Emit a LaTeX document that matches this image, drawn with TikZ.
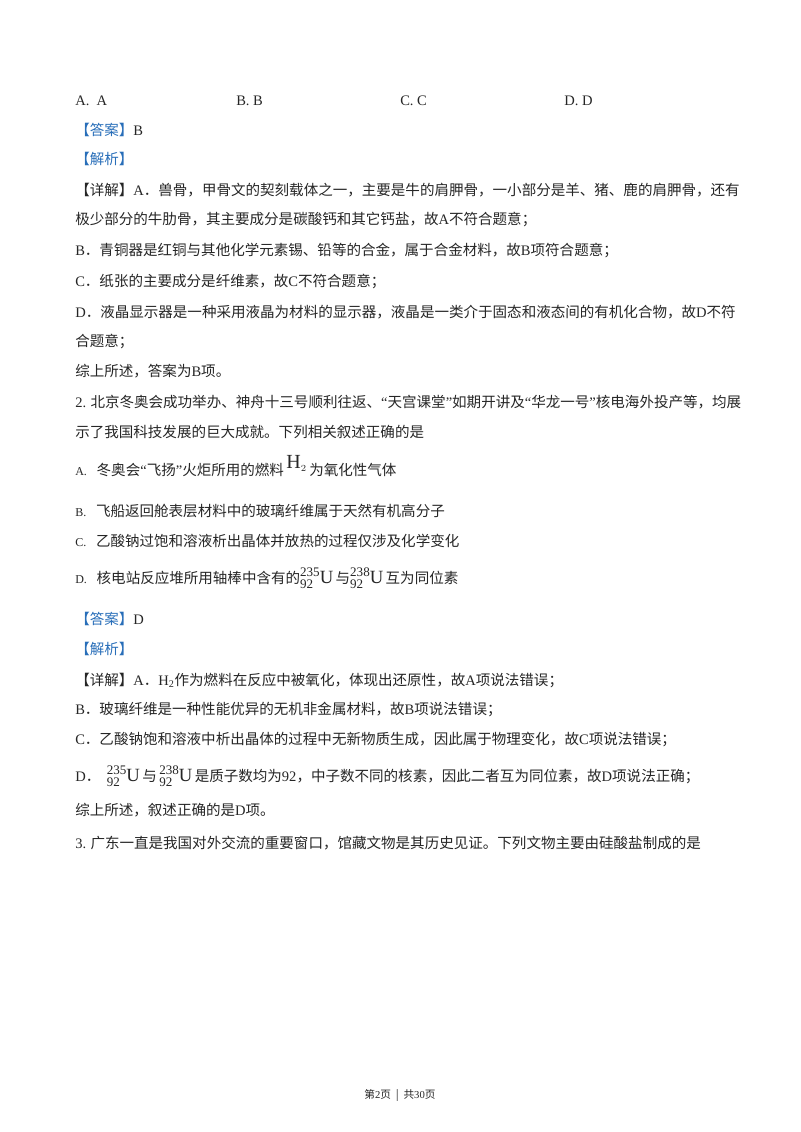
\documentclass[tikz,border=0pt]{standalone}
\usepackage{fontspec}
\setmainfont{Liberation Serif}
\newfontfamily\cjk{Noto Sans CJK SC}
\newcommand{\lt}[1]{{\rmfamily #1}}
\newcommand{\iso}[2]{{\fontsize{14pt}{15pt}\selectfont$\mathrm{{}^{#1}_{#2}\kern-0.5pt U}$}}
\definecolor{ansblue}{RGB}{40,110,185}
\begin{document}
\begin{tikzpicture}[x=0.75pt,y=-0.75pt,
  ln/.style={anchor=west,inner sep=0pt,font=\fontsize{10.9pt}{13pt}\cjk,text=black!85},
  tag/.style={text=ansblue}]
\fill[white] (0,0) rectangle (800,1132);
\useasboundingbox (0,0) rectangle (800,1132);
\node[ln] (a1) at (75,101) {\lt{A.\ \ A}};
\node[ln] (a2) at (236,101) {\lt{B.\ B}};
\node[ln] (a3) at (400,101) {\lt{C.\ C}};
\node[ln] (a4) at (564,101) {\lt{D.\ D}};
\node[ln] (l1) at (75,130) {\textcolor{ansblue}{【答案】}\lt{B}};
\node[ln] (l2) at (75,159) {\textcolor{ansblue}{【解析】}};
\node[ln] (l3) at (75,190) {【详解】\lt{A}．兽骨，甲骨文的契刻载体之一，主要是牛的肩胛骨，一小部分是羊、猪、鹿的肩胛骨，还有};
\node[ln] (l4) at (75,219) {极少部分的牛肋骨，其主要成分是碳酸钙和其它钙盐，故\lt{A}不符合题意；};
\node[ln] (l5) at (75,250) {\lt{B}．青铜器是红铜与其他化学元素锡、铅等的合金，属于合金材料，故\lt{B}项符合题意；};
\node[ln] (l6) at (75,281) {\lt{C}．纸张的主要成分是纤维素，故\lt{C}不符合题意；};
\node[ln] (l7) at (75,312) {\lt{D}．液晶显示器是一种采用液晶为材料的显示器，液晶是一类介于固态和液态间的有机化合物，故\lt{D}不符};
\node[ln] (l8) at (75,341) {合题意；};
\node[ln] (l9) at (75,371) {综上所述，答案为\lt{B}项。};
\node[ln] (q2) at (75,402) {\lt{2.} 北京冬奥会成功举办、神舟十三号顺利往返、\lt{“}天宫课堂\lt{”}如期开讲及\lt{“}华龙一号\lt{”}核电海外投产等，均展};
\node[ln] (q2b) at (75,432) {示了我国科技发展的巨大成就。下列相关叙述正确的是};
\node[ln] (oA) at (75,466) {{\fontsize{9pt}{9pt}\lt{A.}}\ \ \ 冬奥会\lt{“}飞扬\lt{”}火炬所用的燃料\,\raisebox{5pt}{\fontsize{15pt}{15pt}\selectfont$\mathrm{H}_{\scriptscriptstyle 2}$}\,为氧化性气体};
\node[ln] (oB) at (75,511) {{\fontsize{9pt}{9pt}\lt{B.}}\ \ \ 飞船返回舱表层材料中的玻璃纤维属于天然有机高分子};
\node[ln] (oC) at (75,541) {{\fontsize{9pt}{9pt}\lt{C.}}\ \ \ 乙酸钠过饱和溶液析出晶体并放热的过程仅涉及化学变化};
\node[ln] (oD) at (75,578) {{\fontsize{9pt}{9pt}\lt{D.}}\ \ \ 核电站反应堆所用轴棒中含有的\iso{235}{92}\,与\iso{238}{92}\,互为同位素};
\node[ln] (m1) at (75,619) {\textcolor{ansblue}{【答案】}\lt{D}};
\node[ln] (m2) at (75,649) {\textcolor{ansblue}{【解析】}};
\node[ln] (m3) at (75,680) {【详解】\lt{A}．\lt{H\textsubscript{2}}作为燃料在反应中被氧化，体现出还原性，故\lt{A}项说法错误；};
\node[ln] (m4) at (75,709) {\lt{B}．玻璃纤维是一种性能优异的无机非金属材料，故\lt{B}项说法错误；};
\node[ln] (m5) at (75,739) {\lt{C}．乙酸钠饱和溶液中析出晶体的过程中无新物质生成，因此属于物理变化，故\lt{C}项说法错误；};
\node[ln] (m6) at (75,776) {\lt{D}．\ \ \iso{235}{92}\,与\,\iso{238}{92}\,是质子数均为\lt{92}，中子数不同的核素，因此二者互为同位素，故\lt{D}项说法正确；};
\node[ln] (m7) at (75,810) {综上所述，叙述正确的是\lt{D}项。};
\node[ln] (q3) at (75,843) {\lt{3.} 广东一直是我国对外交流的重要窗口，馆藏文物是其历史见证。下列文物主要由硅酸盐制成的是};
\node[ln,anchor=center,font=\fontsize{8pt}{9pt}\cjk] (ft) at (400,1095) {第\lt{2}页\ \ |\ \ 共\lt{30}页};
\end{tikzpicture}
\end{document}
